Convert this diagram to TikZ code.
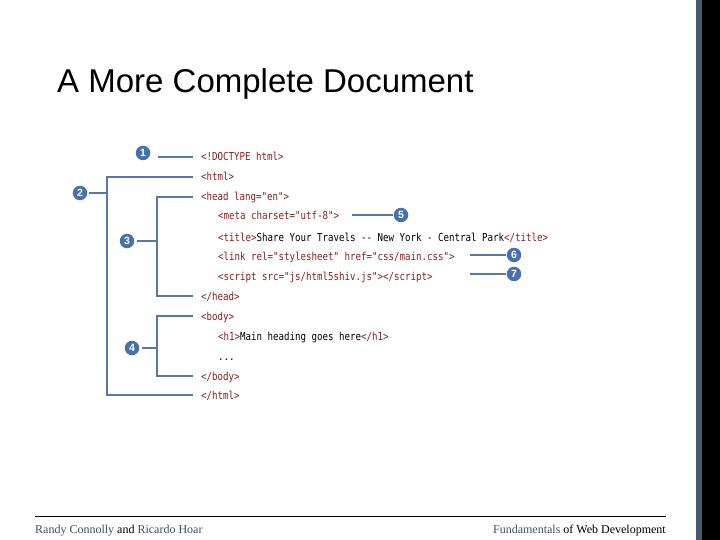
\documentclass[tikz,border=0pt]{standalone}
\usepackage{fontspec}
\setmainfont{Liberation Serif}
\newfontfamily\titlefont{Liberation Sans}
\newfontfamily\codefont[FakeStretch=0.83]{DejaVu Sans Mono}
\definecolor{tagred}{HTML}{8B1E1E}
\definecolor{lineblue}{HTML}{5479A8}
\definecolor{dotblue}{HTML}{4670AE}
\definecolor{slate}{HTML}{3F4F68}
\definecolor{barslate}{HTML}{4B586B}
\begin{document}
\begin{tikzpicture}[x=1pt,y=-1pt,
  code/.style={anchor=base west,inner sep=0pt,font=\codefont\fontsize{11}{12}\selectfont,text=tagred},
  num/.style={circle,fill=dotblue,text=white,inner sep=0pt,minimum size=14.5pt,font=\titlefont\bfseries\fontsize{10.5}{10.5}\selectfont},
  conn/.style={draw=lineblue,line width=1.6pt},
  foot/.style={anchor=base,inner sep=0pt,font=\fontsize{12}{14}\selectfont}]
\useasboundingbox (0,0) rectangle (720,540);
\fill[white] (0,0) rectangle (720,540);
\fill[barslate] (696,0) rectangle (702,540);
\fill[black] (702,0) rectangle (720,540);

\node[anchor=base west,inner sep=0pt,font=\titlefont\fontsize{33}{36}\selectfont] (title) at (57,93) {A More Complete Document};

% code lines
\node[code] (l1) at (201,161) {<!DOCTYPE html>};
\node[code] (l2) at (201,181) {<html>};
\node[code] (l3) at (201,201) {<head lang="en">};
\node[code] (l4) at (218,220) {<meta charset="utf-8">};
\node[code] (l5) at (218,241) {<title>\textcolor{black}{Share Your Travels -- New York - Central Park}</title>};
\node[code] (l6) at (218,260) {<link rel="stylesheet" href="css/main.css">};
\node[code] (l7) at (218,280) {<script src="js/html5shiv.js"></script>};
\node[code] (l8) at (201,300) {</head>};
\node[code] (l9) at (201,320) {<body>};
\node[code] (l10) at (218,340) {<h1>\textcolor{black}{Main heading goes here}</h1>};
\node[code,text=black] (l11) at (218,360) {...};
\node[code] (l12) at (201,380) {</body>};
\node[code] (l13) at (201,399) {</html>};

% numbered markers
\node[num] (n1) at (143,153) {1};
\node[num] (n2) at (80,193) {2};
\node[num] (n3) at (127,241) {3};
\node[num] (n4) at (132,348) {4};
\node[num] (n5) at (401,215) {5};
\node[num] (n6) at (514,255) {6};
\node[num] (n7) at (514,274) {7};

% bracket coordinates
\coordinate (a1) at (158,157); \coordinate (b1) at (193,157);
\coordinate (b2t) at (193,177); \coordinate (b2b) at (193,395);
\coordinate (v2t) at (107,177); \coordinate (v2b) at (107,395); \coordinate (v2m) at (107,193);
\coordinate (b3t) at (193,197); \coordinate (b3b) at (193,296);
\coordinate (v3t) at (157,197); \coordinate (v3b) at (157,296); \coordinate (v3m) at (157,241);
\coordinate (b4t) at (193,316); \coordinate (b4b) at (193,376);
\coordinate (v4t) at (157,316); \coordinate (v4b) at (157,376); \coordinate (v4m) at (157,348);
\coordinate (a5) at (352,215); \coordinate (a6) at (470,255); \coordinate (a7) at (470,274);

\draw[conn] (a1) -- (b1);
\draw[conn] (b2t) -- (v2t) -- (v2b) -- (b2b);
\draw[conn] ([xshift=2pt]n2.east) -- (v2m);
\draw[conn] (b3t) -- (v3t) -- (v3b) -- (b3b);
\draw[conn] ([xshift=3pt]n3.east) -- (v3m);
\draw[conn] (b4t) -- (v4t) -- (v4b) -- (b4b);
\draw[conn] ([xshift=3pt]n4.east) -- (v4m);
\draw[conn] (a5) -- ([xshift=-1pt]n5.west);
\draw[conn] (a6) -- ([xshift=-1pt]n6.west);
\draw[conn] (a7) -- ([xshift=-1pt]n7.west);

% footer
\coordinate (fl) at (35,516); \coordinate (fr) at (666,516);
\draw[black,line width=0.8pt] (fl) -- (fr);
\node[foot,anchor=base west] (authors) at (35,533) {\textcolor{slate}{Randy Connolly} and \textcolor{slate}{Ricardo Hoar}};
\node[foot,anchor=base east] (book) at (666,533) {\textcolor{slate}{Fundamentals} of Web Development};
\end{tikzpicture}
\end{document}
